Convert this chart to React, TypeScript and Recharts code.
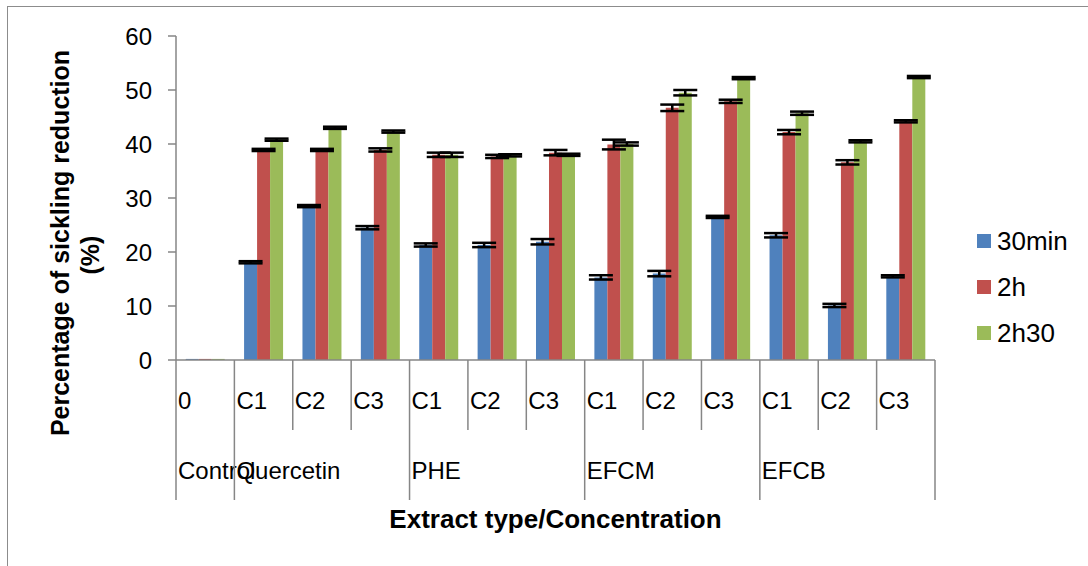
import { BarChart, Bar, XAxis, YAxis, ErrorBar, Label } from "recharts";

const concentrations = ["0", "C1", "C2", "C3", "C1", "C2", "C3", "C1", "C2", "C3", "C1", "C2", "C3"];
const groupNames = ["Control", "Quercetin", "PHE", "EFCM", "EFCB"];
const groupStarts = [0, 1, 4, 7, 10];

const min30 = [0.2, 18.1, 28.5, 24.5, 21.3, 21.3, 21.9, 15.3, 16.0, 26.5, 23.1, 10.1, 15.5];
const h2 = [0.2, 38.9, 38.9, 38.9, 38.0, 37.7, 38.4, 39.9, 46.7, 47.9, 42.2, 36.6, 44.2];
const h2m30 = [0.2, 40.8, 43.0, 42.3, 38.0, 37.9, 38.0, 40.0, 49.5, 52.2, 45.7, 40.5, 52.4];

const errMin30 = [0, 0.2, 0.2, 0.3, 0.3, 0.4, 0.5, 0.4, 0.5, 0.2, 0.4, 0.3, 0.2];
const errH2 = [0, 0.2, 0.2, 0.3, 0.4, 0.3, 0.5, 0.9, 0.6, 0.3, 0.4, 0.4, 0.2];
const errH2m30 = [0, 0.2, 0.2, 0.2, 0.4, 0.2, 0.2, 0.3, 0.5, 0.2, 0.3, 0.2, 0.2];

const yTicks = [0, 10, 20, 30, 40, 50, 60];

const series = [
  { key: "min30", err: "errMin30", name: "30min", color: "#4F81BD" },
  { key: "h2", err: "errH2", name: "2h", color: "#C0504D" },
  { key: "h2m30", err: "errH2m30", name: "2h30", color: "#9BBB59" },
];

const data = concentrations.map((c, i) => ({
  idx: i,
  conc: c,
  min30: min30[i],
  h2: h2[i],
  h2m30: h2m30[i],
  errMin30: errMin30[i],
  errH2: errH2[i],
  errH2m30: errH2m30[i],
}));

const FONT = "'Liberation Sans', Arial, sans-serif";
const AXIS_GREY = "#868686";

function XTick(props: any) {
  const { x, y, payload } = props;
  const i: number = payload.value;
  const half = payload.offset || 29.2;
  const left = x - half;
  const g = groupStarts.indexOf(i);
  const isLast = i === concentrations.length - 1;
  return (
    <g>
      <line x1={left} y1={y} x2={left} y2={y + (g >= 0 ? 140 : 70)} stroke={AXIS_GREY} strokeWidth={1.5} />
      {isLast && (
        <line x1={x + half} y1={y} x2={x + half} y2={y + 140} stroke={AXIS_GREY} strokeWidth={1.5} />
      )}
      <text x={left + 2} y={y + 40} dominantBaseline="central" fontSize={24} fontFamily={FONT} fill="#000">
        {concentrations[i]}
      </text>
      {g >= 0 && (
        <text x={left + 2} y={y + 110} dominantBaseline="central" fontSize={24} fontFamily={FONT} fill="#000">
          {groupNames[g]}
        </text>
      )}
    </g>
  );
}

function YTitle() {
  return (
    <g fontFamily={FONT} fontWeight="bold" fontSize={25} fill="#000">
      <text x={60} y={243} transform="rotate(-90 60 243)" textAnchor="middle" dominantBaseline="central">
        Percentage of sickling reduction
      </text>
      <text x={90} y={255} transform="rotate(-90 90 255)" textAnchor="middle" dominantBaseline="central">
        (%)
      </text>
    </g>
  );
}

function LegendBox() {
  return (
    <div style={{ position: "absolute", left: 977, top: 218, fontFamily: FONT, fontSize: 26, color: "#000" }}>
      {series.map((s) => (
        <div key={s.key} style={{ display: "flex", alignItems: "center", height: 46 }}>
          <span style={{ width: 14, height: 14, background: s.color, marginRight: 6 }} />
          <span>{s.name}</span>
        </div>
      ))}
    </div>
  );
}

export default function App() {
  return (
    <div style={{ position: "fixed", left: 0, top: 0, width: 1088, height: 566, overflow: "hidden", background: "#fff" }}>
      <div
        style={{
          position: "absolute",
          left: 7,
          top: 6,
          width: 1200,
          height: 700,
          borderLeft: "1.5px solid #8c8c8c",
          borderTop: "1.5px solid #8c8c8c",
        }}
      />
      <div style={{ position: "absolute", left: 0, top: 0 }}>
        <BarChart
          width={1088}
          height={566}
          data={data}
          margin={{ top: 36, right: 153, left: 116, bottom: 66 }}
          barCategoryGap="16.6%"
          barGap={0}
        >
          <XAxis
            dataKey="idx"
            height={140}
            interval={0}
            tickLine={false}
            tickSize={0}
            tickMargin={0}
            axisLine={{ stroke: AXIS_GREY, strokeWidth: 1.5 }}
            tick={<XTick />}
          >
            <Label
              value="Extract type/Concentration"
              position="insideBottom"
              offset={-28}
              style={{ fontFamily: FONT, fontWeight: "bold", fontSize: 26, fill: "#000" }}
            />
          </XAxis>
          <YAxis
            width={60}
            domain={[0, 60]}
            ticks={yTicks}
            interval={0}
            tickSize={8}
            tickMargin={16}
            axisLine={{ stroke: AXIS_GREY, strokeWidth: 1.5 }}
            tickLine={{ stroke: AXIS_GREY, strokeWidth: 1.5 }}
            tick={{ fontFamily: FONT, fontSize: 24, fill: "#000" }}
            label={<YTitle />}
          />
          {series.map((s) => (
            <Bar key={s.key} dataKey={s.key} name={s.name} fill={s.color} isAnimationActive={false}>
              <ErrorBar dataKey={s.err} width={12} strokeWidth={2.5} stroke="#000" direction="y" />
            </Bar>
          ))}
        </BarChart>
      </div>
      <LegendBox />
    </div>
  );
}
